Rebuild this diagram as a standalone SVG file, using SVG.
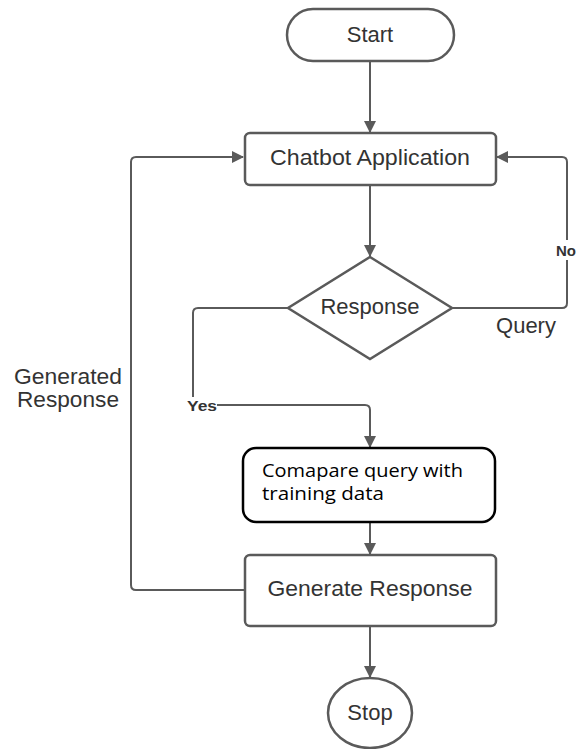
<svg xmlns="http://www.w3.org/2000/svg" width="578" height="749" viewBox="0 0 578 749">
<defs>
<style>
.n{fill:#fff;stroke:#5a5a5a;stroke-width:2.5}
.t{font-family:"Liberation Sans",Arial,sans-serif;font-size:22px;fill:#333;text-anchor:middle}
.c{fill:none;stroke:#5a5a5a;stroke-width:2}
.b{font-family:"Liberation Sans",Arial,sans-serif;font-size:15px;font-weight:bold;fill:#333}
</style>
<marker id="a" markerWidth="12" markerHeight="12" refX="11" refY="6" orient="auto" markerUnits="userSpaceOnUse">
<path d="M0,0 L12,6 L0,12 Z" fill="#5a5a5a"/>
</marker>
</defs>
<rect width="578" height="749" fill="#fff"/>
<g id="connectors">
<path class="c" d="M370,62 V132" marker-end="url(#a)"/>
<path class="c" d="M370,185 V256" marker-end="url(#a)"/>
<path class="c" d="M288,308 H198 Q193,308 193,313 V397"/>
<path class="c" d="M217,405 H365 Q370,405 370,410 V447" marker-end="url(#a)"/>
<path class="c" d="M453,308 H562 Q567,308 567,303 V162 Q567,157 562,157 H497" marker-end="url(#a)"/>
<path class="c" d="M370,522 V554" marker-end="url(#a)"/>
<path class="c" d="M244,590 H136 Q131,590 131,585 V162 Q131,157 136,157 H243" marker-end="url(#a)"/>
<path class="c" d="M370,626 V677" marker-end="url(#a)"/>
</g>
<g id="start">
<rect class="n" x="287" y="9" width="167" height="52" rx="26"/>
<text class="t" x="370" y="42">Start</text>
</g>
<g id="chatbot">
<rect class="n" x="245" y="133" width="251" height="52" rx="5"/>
<text class="t" x="370" y="165" textLength="200" lengthAdjust="spacingAndGlyphs">Chatbot Application</text>
</g>
<g id="response">
<path class="n" d="M370,257 L452,308 L370,359 L288,308 Z"/>
<text class="t" x="370" y="314">Response</text>
</g>
<g id="compare">
<rect x="243" y="448" width="252" height="74" rx="13" fill="#fff" stroke="#000" stroke-width="2.5"/>
<text font-family="'Open Sans','Noto Sans',sans-serif" font-size="17.5" fill="#000"><tspan x="262" y="477" textLength="201" lengthAdjust="spacingAndGlyphs">Comapare query with</tspan><tspan x="262" y="500" textLength="122" lengthAdjust="spacingAndGlyphs">training data</tspan></text>
</g>
<g id="generate">
<rect class="n" x="245" y="555" width="251" height="71" rx="5"/>
<text class="t" x="370" y="596" textLength="205" lengthAdjust="spacingAndGlyphs">Generate Response</text>
</g>
<g id="stop">
<ellipse class="n" cx="370" cy="713" rx="42" ry="35"/>
<text class="t" x="370" y="720">Stop</text>
</g>
<g id="labels">
<rect x="554" y="240" width="24" height="20" fill="#fff"/>
<text class="b" x="556" y="256">No</text>
<text class="t" x="526" y="333">Query</text>
<text class="b" x="187" y="411" textLength="30" lengthAdjust="spacingAndGlyphs">Yes</text>
<text class="t" x="68" y="384" textLength="108" lengthAdjust="spacingAndGlyphs">Generated</text>
<text class="t" x="68" y="407" textLength="102" lengthAdjust="spacingAndGlyphs">Response</text>
</g>
</svg>
